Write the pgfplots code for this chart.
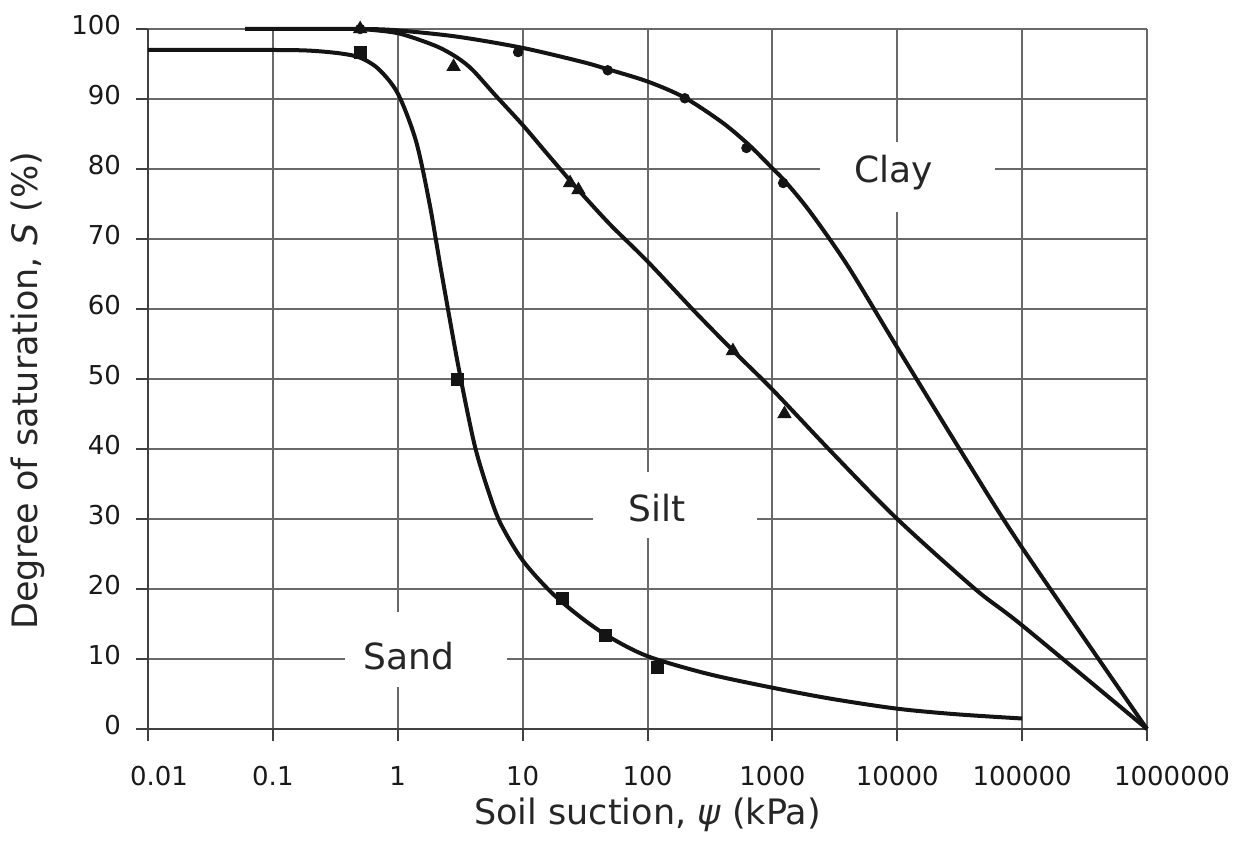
\documentclass[border=0pt]{standalone}
\usepackage{fontspec}
\setmainfont{DejaVu Sans}
\usepackage{pgfplots}
\pgfplotsset{compat=1.18}
\definecolor{gridgray}{RGB}{105,105,105}
\definecolor{curve}{RGB}{20,20,20}
\begin{document}
\begin{tikzpicture}
\begin{axis}[
  scale only axis,
  width=499.5pt, height=350pt,
  xmode=log,
  xmin=0.01, xmax=1000000,
  ymin=0, ymax=100,
  xtick={0.01,0.1,1,10,100,1000,10000,100000,1000000},
  xticklabels={\hspace*{11pt}0.01,0.1,1,10,100,1000,10000,100000,\hspace*{25pt}1000000},
  xminorticks=false,
  ytick={0,10,...,100},
  /pgf/number format/assume math mode=true,
  axis lines=left,
  axis line style={-, line width=1.3pt, black!75},
  grid=major,
  major grid style={line width=1pt, gridgray},
  tick align=outside,
  major tick length=6pt,
  tick style={line width=1pt, black!75},
  ticklabel style={font=\fontsize{13}{15}\selectfont, text=black!90},
  xticklabel style={yshift=-9pt},
  yticklabel style={xshift=-4pt, yshift=2pt},
  clip=false,
  xlabel={Soil suction, \textit{ψ} (kPa)},
  ylabel={Degree of saturation, \textit{S} (\%)},
  label style={font=\fontsize{17.5}{21}\selectfont, text=black!85},
  xlabel style={at={(axis description cs:0.5,-0.123)}, anchor=center},
  ylabel style={at={(axis description cs:-0.12,0.483)}, anchor=center},
]
% label boxes
\node[fill=white, minimum width=87.5pt, minimum height=35pt, inner sep=0pt] at (axis cs:12190,78.9) {};
\node[fill=white, minimum width=82pt, minimum height=33pt, inner sep=0pt] at (axis cs:166,32) {};
\node[fill=white, minimum width=81pt, minimum height=37.5pt, inner sep=0pt] at (axis cs:1.68,11.4) {};
\node[anchor=base west, inner sep=0pt, font=\fontsize{18}{21}\selectfont, text=black!85] at (axis cs:4500,78.1) {Clay};
\node[anchor=base west, inner sep=0pt, font=\fontsize{18}{21}\selectfont, text=black!85] at (axis cs:70.2,29.6) {Silt};
\node[anchor=base west, inner sep=0pt, font=\fontsize{18}{21}\selectfont, text=black!85] at (axis cs:0.53,8.43) {Sand};

% Sand
\addplot[line width=2pt, curve, smooth, tension=0.5, no marks] coordinates {
(0.01,97) (0.1,97) (0.2,96.9) (0.35,96.5) (0.5,95.9) (0.7,94.3) (1,90.8) (1.4,84) (1.8,75) (2.2,66) (2.9,54) (3.5,46.5) (4.2,40) (5.2,34.5) (6.6,29.5) (10,24.1) (17,19.5) (30,15.8) (50,13.1) (100,10.4) (300,7.9) (1000,5.9) (3000,4.3) (10000,2.9) (30000,2.1) (100000,1.5)
};
% Silt
\addplot[line width=2pt, curve, smooth, tension=0.5, no marks] coordinates {
(0.5,100) (1,99.4) (2,97.6) (3,95.9) (4,94.1) (6,90.6) (10,86.3) (15,82.6) (20,80) (27,77.3) (50,72.1) (100,66.8) (234,59.8) (500,53.8) (1000,48.5) (3000,39.5) (10000,30) (42000,20) (100000,14.8) (1000000,0)
};
% Clay
\addplot[line width=2pt, curve, smooth, tension=0.5, no marks] coordinates {
(0.06,100) (0.5,100) (1,99.8) (3,98.9) (10,97.3) (30,95.3) (47,94.3) (100,92.5) (198,90.2) (400,86.6) (653,83.4) (1000,80.1) (1270,78.2) (2000,73.9) (4000,66.2) (10000,54.5) (35000,38.7) (100000,25.9) (1000000,0)
};
% measured points
\addplot[only marks, mark=square*, mark size=3pt, curve] coordinates {
(0.5,96.6) (3.0,50) (21,18.7) (46,13.4) (120,8.8)
};
\addplot[only marks, mark=triangle*, mark size=3.8pt, curve] coordinates {
(0.5,100) (2.8,94.6) (24,78) (28,77) (483,54) (1250,45)
};
\addplot[only marks, mark=*, mark size=2.4pt, curve] coordinates {
(0.5,100) (9.2,96.7) (48,94.1) (199,90.1) (620,83) (1220,78)
};
\end{axis}
\pgfresetboundingbox
\path (-74pt,-57.5pt) rectangle (547pt,364.5pt);
\end{tikzpicture}
\end{document}
